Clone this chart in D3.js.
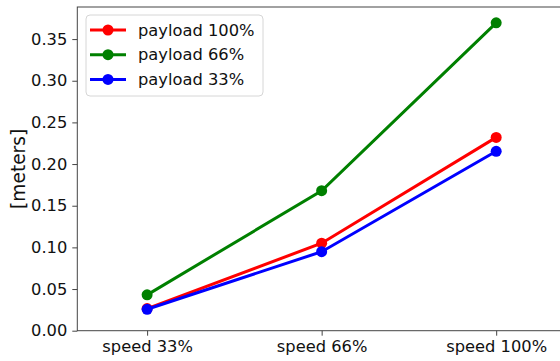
<!DOCTYPE html>
<html>
<head>
<meta charset="utf-8">
<script src="https://cdn.jsdelivr.net/npm/d3@7"></script>
<style>
  body { margin: 0; background: #fff; }
  svg { display: block; font-family: 'DejaVu Sans', sans-serif; }
</style>
</head>
<body>
<div id="chart"></div>
<script>
// data
const categories = ['speed 33%', 'speed 66%', 'speed 100%']
const seriesNames = ['payload 100%', 'payload 66%', 'payload 33%']
const seriesColors = ['#ff0000', '#008000', '#0000ff']
const payload100 = [0.0265, 0.105, 0.232]
const payload66 = [0.043, 0.168, 0.3695]
const payload33 = [0.0257, 0.0948, 0.2153]
const yTicks = [0.00, 0.05, 0.10, 0.15, 0.20, 0.25, 0.30, 0.35]

const width = 560
const height = 361
const margin = { top: 7, right: -6, bottom: 30.3, left: 77.3 }

const svg = d3.select('#chart')
  .append('svg')
  .attr('width', width)
  .attr('height', height)

const x = d3.scaleLinear()
  .domain([-0.4, categories.length - 1 + 0.4])
  .range([margin.left, width - margin.right])

const y = d3.scaleLinear()
  .domain([0, 0.3885])
  .range([height - margin.bottom, margin.top])

// axes
const xAxis = svg.append('g')
  .attr('transform', `translate(0,${height - margin.bottom})`)
  .call(d3.axisBottom(x).tickValues(d3.range(categories.length))
    .tickFormat(i => categories[i]).tickSize(5).tickSizeOuter(0).tickPadding(5))
xAxis.select('.domain').remove()
xAxis.selectAll('text').attr('font-size', 16.3).attr('fill', '#111')
  .attr('font-family', 'DejaVu Sans')
xAxis.selectAll('line').attr('stroke', '#444')

const yAxis = svg.append('g')
  .attr('transform', `translate(${margin.left},0)`)
  .call(d3.axisLeft(y).tickValues(yTicks).tickFormat(d3.format('.2f'))
    .tickSize(5).tickSizeOuter(0).tickPadding(5))
yAxis.select('.domain').remove()
yAxis.selectAll('text').attr('font-size', 16.3).attr('fill', '#111')
  .attr('font-family', 'DejaVu Sans')
yAxis.selectAll('line').attr('stroke', '#444')

// spines
svg.append('rect')
  .attr('x', margin.left)
  .attr('y', margin.top)
  .attr('width', width - margin.right - margin.left)
  .attr('height', height - margin.bottom - margin.top)
  .attr('fill', 'none')
  .attr('stroke', '#444')
  .attr('stroke-width', 1)

svg.append('text')
  .attr('transform', `translate(25,${(margin.top + height - margin.bottom) / 2}) rotate(-90)`)
  .attr('text-anchor', 'middle')
  .attr('font-size', 18.6)
  .attr('fill', '#111')
  .text('[meters]')

// lines
const allSeries = [payload100, payload66, payload33]
const line = d3.line().x((d, i) => x(i)).y(d => y(d))

allSeries.forEach((vals, s) => {
  const g = svg.append('g')
  g.append('path')
    .datum(vals)
    .attr('d', line)
    .attr('fill', 'none')
    .attr('stroke', seriesColors[s])
    .attr('stroke-width', 3)
  g.selectAll('circle')
    .data(vals)
    .join('circle')
    .attr('cx', (d, i) => x(i))
    .attr('cy', d => y(d))
    .attr('r', 5.5)
    .attr('fill', seriesColors[s])
})

// legend
const legend = svg.append('g')
legend.append('rect')
  .attr('x', 86)
  .attr('y', 15)
  .attr('width', 177)
  .attr('height', 81)
  .attr('rx', 4)
  .attr('fill', '#fff')
  .attr('fill-opacity', 0.8)
  .attr('stroke', '#d6d6d6')

seriesNames.forEach((name, s) => {
  const ly = 30 + s * 24.7
  legend.append('line')
    .attr('x1', 90).attr('x2', 126)
    .attr('y1', ly).attr('y2', ly)
    .attr('stroke', seriesColors[s])
    .attr('stroke-width', 3)
  legend.append('circle')
    .attr('cx', 108).attr('cy', ly).attr('r', 5.5)
    .attr('fill', seriesColors[s])
  legend.append('text')
    .attr('x', 138).attr('y', ly)
    .attr('dy', '0.35em')
    .attr('font-size', 16.3)
    .attr('fill', '#111')
    .text(name)
})
</script>
</body>
</html>
